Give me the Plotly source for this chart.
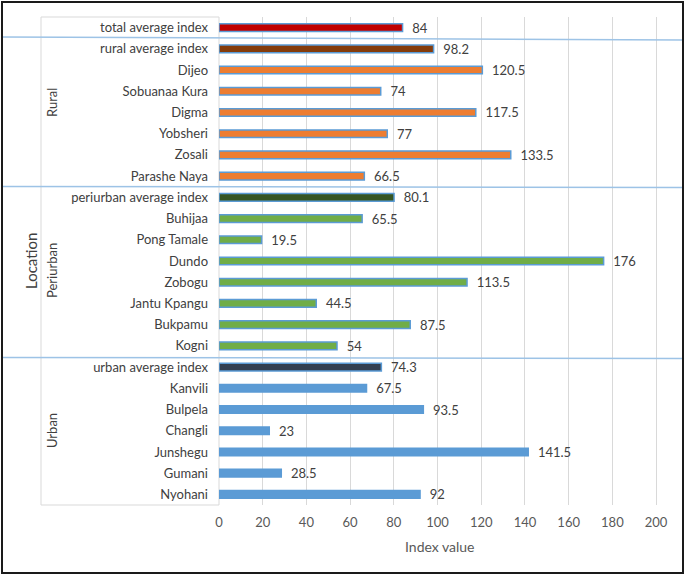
import plotly.graph_objects as go

categories = ["total average index", "rural average index", "Dijeo", "Sobuanaa Kura", "Digma",
              "Yobsheri", "Zosali", "Parashe Naya", "periurban average index", "Buhijaa",
              "Pong Tamale", "Dundo", "Zobogu", "Jantu Kpangu", "Bukpamu", "Kogni",
              "urban average index", "Kanvili", "Bulpela", "Changli", "Junshegu", "Gumani", "Nyohani"]
values = [84, 98.2, 120.5, 74, 117.5, 77, 133.5, 66.5, 80.1, 65.5, 19.5, 176, 113.5, 44.5,
          87.5, 54, 74.3, 67.5, 93.5, 23, 141.5, 28.5, 92]
value_labels = ["84", "98.2", "120.5", "74", "117.5", "77", "133.5", "66.5", "80.1", "65.5",
                "19.5", "176", "113.5", "44.5", "87.5", "54", "74.3", "67.5", "93.5", "23",
                "141.5", "28.5", "92"]
bar_colors = ["#C00000", "#843C0C"] + ["#ED7D31"] * 6 + ["#375623"] + ["#70AD47"] * 7 + \
             ["#333F50"] + ["#5B9BD5"] * 6
group_names = ["Rural", "Periurban", "Urban"]
x_ticks = [0, 20, 40, 60, 80, 100, 120, 140, 160, 180, 200]

W, H = 685, 575
L, R, T, B = 219, 667, 17, 505
pw, ph = R - L, B - T


def px_x(p):
    return (p - L) / pw


def px_y(p):
    return (B - p) / ph


FONT = "Lato"
TXT = "#404040"

fig = go.Figure()
fig.add_trace(go.Bar(
    y=categories, x=values, orientation="h",
    marker=dict(color=bar_colors, line=dict(color="#5B9BD5", width=1.5)),
    width=0.36,
    text=["  " + v for v in value_labels], textposition="outside", constraintext="none",
    textfont=dict(family=FONT, size=13, color=TXT),
    cliponaxis=False, showlegend=False,
))

shapes = []
# label box
shapes.append(dict(type="rect", xref="paper", yref="paper", x0=px_x(41), x1=0, y0=0, y1=1,
                   line=dict(color="#D9D9D9", width=1), fillcolor="rgba(0,0,0,0)", layer="below"))
# group separators
for yl, yr in [(37, 40), (186.5, 187.5), (357.5, 358.5)]:
    shapes.append(dict(type="line", xref="paper", yref="paper", x0=px_x(2), x1=px_x(683),
                       y0=px_y(yl), y1=px_y(yr), line=dict(color="#9DC3E6", width=1.5)))
# outer frame
shapes.append(dict(type="rect", xref="paper", yref="paper", x0=px_x(2), x1=px_x(683),
                   y0=px_y(573), y1=px_y(2), line=dict(color="#1a1a1a", width=2)))

annotations = []
for name, yc in zip(group_names, [103, 271, 431]):
    annotations.append(dict(text=name, xref="paper", yref="paper", x=px_x(52), y=px_y(yc),
                            textangle=-90, showarrow=False, xanchor="center", yanchor="middle",
                            font=dict(family=FONT, size=13, color=TXT)))
annotations.append(dict(text="Location", xref="paper", yref="paper", x=px_x(31), y=px_y(261),
                        textangle=-90, showarrow=False, xanchor="center", yanchor="middle",
                        font=dict(family=FONT, size=15, color=TXT)))
annotations.append(dict(text="Index value", xref="paper", yref="paper", x=px_x(440), y=px_y(546),
                        showarrow=False, xanchor="center", yanchor="middle",
                        font=dict(family=FONT, size=14, color="#595959")))

fig.update_layout(
    width=W, height=H,
    margin=dict(l=L, r=W - R, t=T, b=H - B, pad=0, autoexpand=False),
    paper_bgcolor="white", plot_bgcolor="white",
    shapes=shapes, annotations=annotations,
    xaxis=dict(range=[0, 205], tickvals=x_ticks, showgrid=True, gridcolor="#D9D9D9",
               gridwidth=1, zeroline=False, showline=False, ticks="", automargin=False,
               ticklabelstandoff=8,
               tickfont=dict(family=FONT, size=13, color="#595959")),
    yaxis=dict(autorange="reversed", type="category", showgrid=False, zeroline=False,
               ticks="", ticklabelstandoff=10, automargin=False,
               tickfont=dict(family=FONT, size=13, color=TXT)),
    font=dict(family=FONT),
)

fig.write_html("out.html", config={"displayModeBar": False},
               post_script="document.body.style.margin='0px';document.body.style.overflow='hidden';")
